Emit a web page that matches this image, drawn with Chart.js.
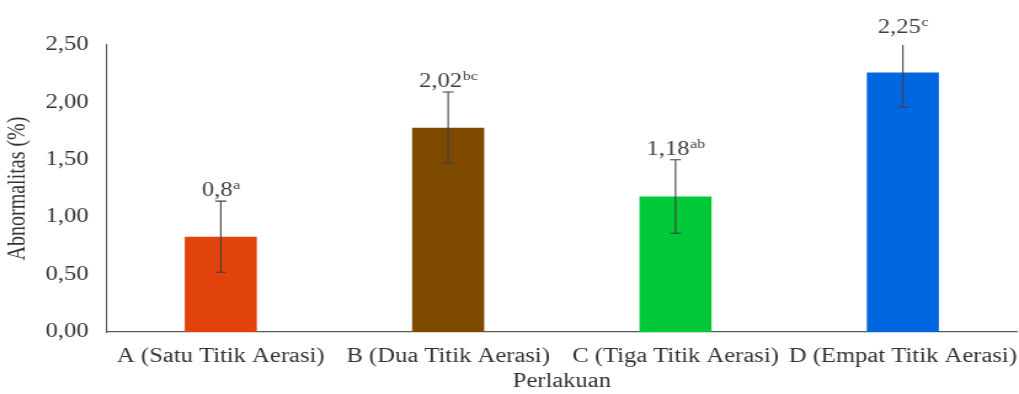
<!DOCTYPE html>
<html>
<head>
<meta charset="utf-8">
<script src="https://cdn.jsdelivr.net/npm/chart.js@4"></script>
<style>
  html, body { margin: 0; padding: 0; background: #fff; overflow: hidden; }
  #wrap { width: 1019px; height: 394px; overflow: hidden; }
  /* the reference is a horizontally stretched picture: draw narrower, then stretch */
  #chart { transform: scaleX(1.2307); transform-origin: 0 0; }
</style>
</head>
<body>
<div id="wrap"><canvas id="chart" width="828" height="394"></canvas></div>
<script>
  // Data
  const categories = ['A (Satu Titik Aerasi)', 'B (Dua Titik Aerasi)', 'C (Tiga Titik Aerasi)', 'D (Empat Titik Aerasi)'];
  const means = [0.83, 1.78, 1.18, 2.26];
  const errors = [0.31, 0.31, 0.32, 0.30];
  const valueLabels = ['0,8', '2,02', '1,18', '2,25'];
  const superscripts = ['a', 'bc', 'ab', 'c'];
  const barColors = ['#e2420b', '#7d4a00', '#00c837', '#0066e0'];

  const serif = '"Liberation Serif", "Times New Roman", serif';
  const axisColor = '#595959';
  const textColor = '#333';

  // Error bars and value labels
  const errorBarPlugin = {
    id: 'errorBars',
    afterDatasetsDraw(chart) {
      const ctx = chart.ctx;
      const x = chart.scales.x;
      const y = chart.scales.y;
      const area = chart.chartArea;
      ctx.save();
      means.forEach((m, i) => {
        const cx = x.getPixelForValue(i);
        const rawTop = y.getPixelForValue(m + errors[i]);
        const top = Math.max(rawTop, area.top);
        const bot = y.getPixelForValue(m - errors[i]);
        ctx.strokeStyle = '#404040';
        ctx.lineWidth = 1.1;
        ctx.beginPath();
        ctx.moveTo(cx, top); ctx.lineTo(cx, bot);
        if (rawTop >= area.top) {
          ctx.moveTo(cx - 4.5, top); ctx.lineTo(cx + 4.5, top);
        }
        ctx.moveTo(cx - 4.5, bot); ctx.lineTo(cx + 4.5, bot);
        ctx.stroke();

        // label text with superscript
        const base = rawTop - 5;
        ctx.fillStyle = '#404040';
        ctx.textBaseline = 'alphabetic';
        ctx.textAlign = 'left';
        ctx.font = '20px ' + serif;
        const w1 = ctx.measureText(valueLabels[i]).width;
        ctx.font = '13px ' + serif;
        const w2 = ctx.measureText(superscripts[i]).width;
        const start = cx - (w1 + w2) / 2;
        ctx.font = '20px ' + serif;
        ctx.fillText(valueLabels[i], start, base);
        ctx.font = '13px ' + serif;
        ctx.fillText(superscripts[i], start + w1 + 0.5, base - 7);
      });
      ctx.restore();
    }
  };

  new Chart(document.getElementById('chart'), {
    type: 'bar',
    data: {
      labels: categories,
      datasets: [{
        data: means,
        backgroundColor: barColors,
        borderWidth: 0,
        categoryPercentage: 1,
        barPercentage: 0.317
      }]
    },
    options: {
      responsive: false,
      animation: false,
      layout: { padding: { top: 45, right: 2, left: 0, bottom: 0 } },
      plugins: {
        legend: { display: false },
        tooltip: { enabled: false }
      },
      scales: {
        x: {
          grid: { display: false, drawTicks: false },
          border: { color: axisColor, width: 1.2 },
          ticks: {
            color: textColor,
            font: { family: serif, size: 20 },
            padding: 13,
            maxRotation: 0,
            autoSkip: false
          },
          title: {
            display: true,
            text: 'Perlakuan',
            color: textColor,
            font: { family: serif, size: 20 },
            padding: { top: 0, bottom: 0 }
          },
          afterFit(scale) {
            scale.height = 62;
            scale.paddingLeft = 0;
            scale.paddingRight = 0;
          }
        },
        y: {
          min: 0,
          max: 2.5,
          grid: { display: false, drawTicks: false },
          border: { color: axisColor, width: 1.1 },
          ticks: {
            stepSize: 0.5,
            color: textColor,
            font: { family: serif, size: 20 },
            padding: 15,
            callback: v => v.toFixed(2).replace('.', ',')
          },
          title: {
            display: true,
            text: 'Abnormalitas (%)',
            color: textColor,
            font: { family: serif, size: 20 },
            padding: { top: 3, bottom: 0 }
          },
          afterFit(scale) { scale.width = 87; }
        }
      }
    },
    plugins: [errorBarPlugin]
  });
</script>
</body>
</html>
